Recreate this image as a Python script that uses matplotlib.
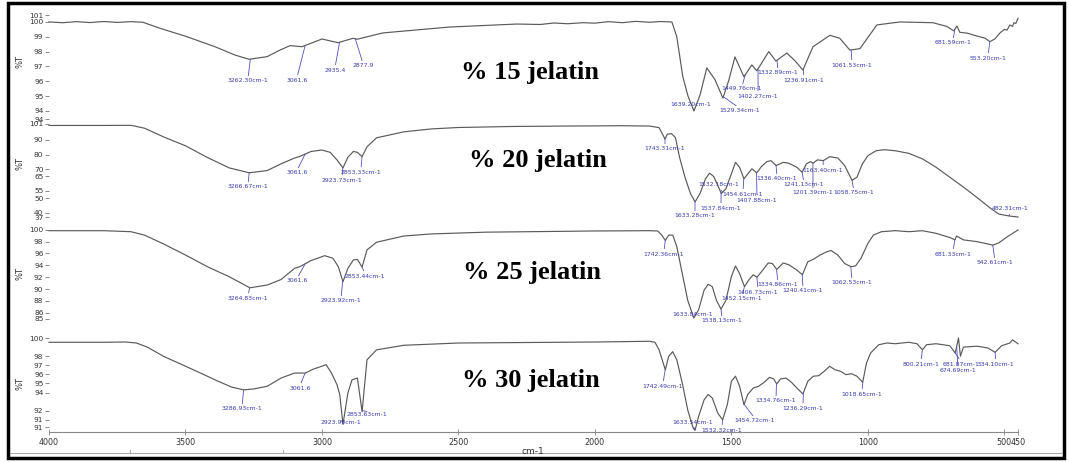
import numpy as np
import matplotlib
matplotlib.use("Agg")
import matplotlib.pyplot as plt
from matplotlib.lines import Line2D
from matplotlib.patches import Rectangle

# ---- spectra (wavenumber cm-1, %T) ----
wn1 = [4000, 3950, 3900, 3850, 3800, 3750, 3700, 3656, 3593, 3502, 3392, 3319, 3267, 3201,
       3154, 3117, 3073, 3000, 2941, 2886, 2872, 2777, 2531, 2286, 2200, 2150, 2100, 2044,
       2000, 1950, 1900, 1850, 1799, 1760, 1718, 1700, 1678, 1659, 1637, 1615, 1590, 1560,
       1531, 1509, 1487, 1454, 1425, 1407, 1363, 1337, 1297, 1268, 1238, 1201, 1139, 1103,
       1066, 1029, 967, 883, 762, 711, 685, 674, 663, 637, 610, 590, 570, 553, 535, 516,
       500, 490, 480, 470, 465, 458, 450]
t1 = [100.0, 99.95, 100.02, 99.96, 100.03, 99.97, 100.02, 99.98, 99.57, 99.05, 98.33, 97.77,
      97.48, 97.66, 98.1, 98.4, 98.33, 98.85, 98.6, 98.9, 98.83, 99.26, 99.66, 99.86, 99.83,
      99.93, 99.88, 99.95, 99.92, 100.02, 99.95, 100.04, 99.98, 100.03, 100.0, 99.0, 96.3,
      95.0, 93.99, 95.07, 96.9, 96.1, 94.86, 96.1, 97.64, 96.3, 97.1, 96.7, 98.0, 97.36,
      97.9, 97.4, 96.76, 98.33, 99.1, 98.9, 98.1, 98.2, 99.8, 100.0, 99.95, 99.7, 99.4,
      99.73, 99.3, 99.25, 99.1, 99.0, 98.9, 98.67, 98.85, 99.26, 99.5, 99.45, 99.8, 99.7,
      99.95, 99.9, 100.25]

wn2 = [4000, 3800, 3700, 3650, 3580, 3500, 3420, 3340, 3266, 3200, 3150, 3100, 3081, 3040,
       3000, 2970, 2945, 2923, 2905, 2885, 2870, 2853, 2835, 2800, 2700, 2600, 2500, 2300,
       2100, 1900, 1800, 1765, 1743, 1735, 1720, 1705, 1690, 1670, 1650, 1633, 1615, 1595,
       1580, 1565, 1550, 1537, 1520, 1500, 1485, 1470, 1454, 1440, 1425, 1407, 1390, 1370,
       1355, 1336, 1310, 1290, 1260, 1241, 1225, 1210, 1201, 1185, 1163, 1140, 1110, 1085,
       1058, 1040, 1020, 1000, 970, 940, 900, 850, 800, 750, 700, 650, 600, 550, 520, 482,
       460, 450]
t2 = [100.0, 100.0, 100.1, 98.1, 92.1, 86.0, 78.0, 70.8, 67.4, 69.0, 73.6, 77.6, 78.7, 82.1,
      83.1, 81.5, 76.3, 70.8, 78.1, 82.1, 81.5, 78.5, 85.3, 91.5, 95.6, 97.6, 98.6, 99.3,
      99.6, 99.8, 99.6, 98.5, 90.6, 94.0, 94.4, 91.7, 78.1, 64.4, 53.1, 47.4, 53.1, 63.3,
      67.2, 64.9, 58.8, 53.1, 56.5, 66.7, 74.6, 71.2, 63.3, 66.7, 70.2, 67.4, 71.7, 75.1,
      75.8, 72.4, 74.6, 74.0, 71.2, 67.8, 73.6, 75.1, 74.0, 76.3, 75.8, 78.5, 77.6, 72.4,
      62.2, 64.4, 73.6, 79.2, 82.6, 83.3, 82.6, 80.8, 77.0, 71.2, 64.4, 57.6, 50.4, 42.9,
      39.0, 37.7, 37.2, 37.0]

wn3 = [4000, 3800, 3700, 3650, 3580, 3500, 3420, 3340, 3264, 3200, 3150, 3100, 3081, 3040,
       2990, 2960, 2940, 2923, 2905, 2885, 2870, 2853, 2835, 2800, 2700, 2600, 2400, 2200,
       2000, 1800, 1770, 1755, 1742, 1730, 1715, 1700, 1680, 1660, 1638, 1620, 1600, 1585,
       1570, 1555, 1538, 1520, 1500, 1485, 1470, 1452, 1435, 1420, 1406, 1385, 1365, 1350,
       1334, 1310, 1290, 1260, 1240, 1220, 1200, 1175, 1150, 1135, 1110, 1085, 1062, 1045,
       1025, 1000, 980, 950, 900, 850, 800, 750, 700, 681, 675, 650, 600, 560, 542, 520,
       490, 450]
t3 = [99.85, 99.85, 99.68, 99.1, 97.6, 95.74, 93.77, 92.08, 90.2, 90.68, 91.6, 93.5, 93.77,
      94.8, 95.63, 95.2, 93.77, 91.23, 93.5, 94.9, 95.0, 93.7, 96.6, 97.9, 98.95, 99.3, 99.6,
      99.7, 99.8, 99.85, 99.8, 99.1, 98.2, 99.1, 99.1, 97.15, 92.6, 88.1, 85.1, 86.5, 89.8,
      90.8, 90.4, 88.1, 86.6, 88.1, 92.1, 93.9, 92.6, 90.4, 91.6, 92.4, 92.0, 93.2, 94.4,
      94.3, 93.3, 94.4, 94.1, 93.2, 92.4, 94.6, 95.0, 95.74, 96.3, 96.5, 95.74, 94.3, 93.77,
      93.9, 95.2, 97.7, 99.1, 99.68, 99.85, 99.68, 99.85, 99.4, 98.7, 98.3, 98.95, 98.3,
      98.0, 97.6, 97.4, 97.8, 98.8, 99.97]

wn4 = [4000, 3800, 3720, 3680, 3640, 3580, 3500, 3440, 3380, 3330, 3287, 3250, 3200, 3150,
       3100, 3061, 3030, 3000, 2985, 2965, 2945, 2935, 2923, 2905, 2890, 2870, 2853, 2835,
       2800, 2700, 2500, 2000, 1800, 1780, 1765, 1742, 1730, 1715, 1700, 1680, 1660, 1640,
       1633, 1620, 1600, 1585, 1570, 1550, 1532, 1515, 1500, 1485, 1470, 1454, 1440, 1420,
       1400, 1380, 1360, 1345, 1334, 1320, 1300, 1280, 1260, 1238, 1220, 1200, 1180, 1160,
       1140, 1120, 1100, 1080, 1060, 1040, 1019, 1005, 990, 960, 930, 900, 850, 820, 800,
       785, 750, 700, 680, 668, 661, 650, 600, 560, 534, 510, 480, 470, 450]
t4 = [99.53, 99.53, 99.56, 99.45, 99.0, 97.98, 96.9, 96.08, 95.24, 94.6, 94.3, 94.4, 94.7,
      95.6, 96.15, 96.15, 96.6, 96.9, 97.07, 96.15, 94.87, 93.8, 90.5, 93.96, 95.4, 95.6,
      91.9, 97.6, 98.7, 99.2, 99.45, 99.56, 99.64, 99.53, 98.7, 96.5, 97.98, 98.5, 97.6,
      95.05, 92.1, 90.1, 89.86, 91.4, 93.2, 93.8, 93.4, 91.76, 91.0, 92.67, 95.24, 95.8,
      94.7, 92.67, 93.8, 94.5, 94.7, 95.13, 95.68, 95.5, 94.95, 95.5, 95.6, 95.13, 94.5,
      93.85, 95.24, 95.8, 95.86, 96.34, 96.9, 96.5, 96.34, 95.97, 96.08, 95.8, 95.13, 97.25,
      98.35, 99.26, 99.45, 99.37, 99.53, 99.37, 98.7, 99.26, 99.37, 99.15, 98.35, 100.0,
      98.0, 99.0, 99.1, 98.9, 98.43, 99.15, 99.45, 99.8, 99.37]

# peak labels
peaks1 = ["3262.30cm-1", "3061.6", "2935.4", "2877.9", "1639.20cm-1", "1529.34cm-1",
          "1449.76cm-1", "1402.27cm-1", "1332.89cm-1", "1236.91cm-1", "1061.53cm-1",
          "681.59cm-1", "553.20cm-1"]
peaks2 = ["3266.67cm-1", "3061.6", "2923.73cm-1", "2853.33cm-1", "1743.31cm-1",
          "1633.28cm-1", "1532.18cm-1", "1537.84cm-1", "1454.61cm-1", "1407.88cm-1",
          "1336.40cm-1", "1241.13cm-1", "1201.39cm-1", "1163.40cm-1", "1058.75cm-1",
          "482.31cm-1"]
peaks3 = ["3264.83cm-1", "3061.6", "2923.92cm-1", "2853.44cm-1", "1742.36cm-1",
          "1633.84cm-1", "1538.13cm-1", "1452.15cm-1", "1406.73cm-1", "1334.86cm-1",
          "1240.41cm-1", "1062.53cm-1", "681.33cm-1", "542.61cm-1"]
peaks4 = ["3286.93cm-1", "3061.6", "2923.90cm-1", "2853.63cm-1", "1742.49cm-1",
          "1633.54cm-1", "1532.32cm-1", "1454.72cm-1", "1334.76cm-1", "1236.29cm-1",
          "1018.65cm-1", "800.21cm-1", "681.87cm-1", "674.69cm-1", "534.10cm-1"]

titles = ["% 15 jelatin", "% 20 jelatin", "% 25 jelatin", "% 30 jelatin"]

yticks = [[100.47, 100, 99, 98, 97, 96, 95, 94, 93.45],
          [101, 90, 80, 70, 65, 55, 50, 40, 37],
          [100, 98, 96, 94, 92, 90, 88, 86, 85],
          [100, 98, 97, 96, 95, 94, 92, 91, 90.2]]
ytick_labels = [["101", "100", "99", "98", "97", "96", "95", "94", "94"],
                ["101", "90", "80", "70", "65", "55", "50", "40", "37"],
                ["100", "98", "96", "94", "92", "90", "88", "86", "85"],
                ["100", "98", "97", "96", "95", "94", "92", "91", "91"]]
xticks = [4000, 3500, 3000, 2500, 2000, 1500, 1000, 500, 450]

# ---- layout (pixels) ----
W, H = 1069, 462
fig = plt.figure(figsize=(W / 100, H / 100), dpi=100)
fig.patch.set_facecolor("white")

panel_px = [(15, 119), (124, 217), (229.8, 318.6), (335, 432)]
ylims = [(93.45, 100.47), (37, 101), (85, 100), (89.67, 100.33)]
label_pos = [
    [(248, 81), (297, 80), (335, 70), (363, 66), (691, 104), (740, 111), (742, 89),
     (758, 96), (778, 73), (804, 80), (852, 65), (953, 43), (988, 58)],
    [(248, 187), (297, 173), (342, 180), (361, 172), (665, 149), (695, 216), (719, 185),
     (721, 208), (743, 194), (757, 200), (777, 179), (804, 185), (813, 193), (823, 170),
     (854, 193), (1010, 209)],
    [(248, 298), (297, 281), (341, 301), (365, 276), (664, 254), (693, 314), (722, 321),
     (742, 299), (758, 292), (778, 285), (803, 291), (852, 283), (953, 254), (995, 263)],
    [(242, 409), (300, 388), (341, 423), (367, 414), (663, 386), (693, 422), (722, 430),
     (755, 421), (776, 401), (803, 408), (862, 394), (921, 364), (961, 364), (958, 371),
     (996, 364)],
]
title_pos = [(530, 72), (538, 160), (532, 272), (531, 381)]
ylabel_y = [62, 163, 273, 383]

x0, x1 = 49, 1018
spectra = [(wn1, t1), (wn2, t2), (wn3, t3), (wn4, t4)]
peaks = [peaks1, peaks2, peaks3, peaks4]
blue = "#3b3bb0"

for i in range(4):
    ytop, ybot = panel_px[i]
    ax = fig.add_axes([x0 / W, 1 - ybot / H, (x1 - x0) / W, (ybot - ytop) / H])
    ax.patch.set_alpha(0)
    wn, tt = spectra[i]
    ax.plot(wn, tt, color="#5a5a5a", lw=0.85, clip_on=False)
    ax.set_xlim(4000, 450)
    ax.set_ylim(*ylims[i])
    for s in ax.spines.values():
        s.set_visible(False)
    ax.set_yticks(yticks[i])
    ax.set_yticklabels(ytick_labels[i])
    ax.tick_params(axis="y", labelsize=5.3, length=3, width=0.6, pad=1,
                   color="#777777", labelcolor="#333333")
    if i == 3:
        ax.spines["bottom"].set_visible(True)
        ax.spines["bottom"].set_color("#888888")
        ax.spines["bottom"].set_linewidth(0.8)
        ax.set_xticks(xticks)
        ax.set_xticklabels([str(v) for v in xticks])
        ax.tick_params(axis="x", labelsize=5.8, length=4, width=0.6, direction="inout",
                       pad=2, color="#888888", labelcolor="#333333")
    else:
        ax.set_xticks([])

    # peak annotations
    wn_arr = np.array(wn[::-1], dtype=float)
    t_arr = np.array(tt[::-1], dtype=float)
    for lab, (tx, ty) in zip(peaks[i], label_pos[i]):
        pw = float(lab.replace("cm-1", ""))
        pv = np.interp(pw, wn_arr, t_arr)
        cy = H - ax.transData.transform((pw, pv))[1]
        rel = (0.5, 1.0) if ty > cy else (0.5, 0.0)
        ax.annotate(lab, xy=(pw, pv), xycoords="data",
                    xytext=(tx / W, 1 - ty / H), textcoords="figure fraction",
                    ha="center", va="center", fontsize=4.4, color=blue,
                    annotation_clip=False,
                    arrowprops=dict(arrowstyle="-", color="#5050b8", lw=0.6,
                                    shrinkA=0, shrinkB=0, relpos=rel))

    tx, ty = title_pos[i]
    fig.text(tx / W, 1 - ty / H, titles[i], ha="center", va="center",
             fontsize=19, fontweight="bold", family="Liberation Serif", color="black")
    fig.text(20 / W, 1 - ylabel_y[i] / H, "%T", rotation=90, ha="center", va="center",
             fontsize=6, color="#333333")

fig.text(533 / W, 1 - 452 / H, "cm-1", ha="center", va="center", fontsize=6.5,
         color="#333333")

# window frame
fig.add_artist(Line2D([10 / W, 1062 / W], [1 - 453 / H, 1 - 453 / H],
                      color="#aaaaaa", lw=0.8))
for xt in (130, 283):
    fig.add_artist(Line2D([xt / W, xt / W], [1 - 453 / H, 1 - 450 / H],
                          color="#aaaaaa", lw=0.8))
fig.add_artist(Rectangle((8 / W, 1 - 458 / H), 1056 / W, 455 / H, fill=False,
                         edgecolor="black", lw=2.5, transform=fig.transFigure))

fig.savefig("out.png", dpi=100)
